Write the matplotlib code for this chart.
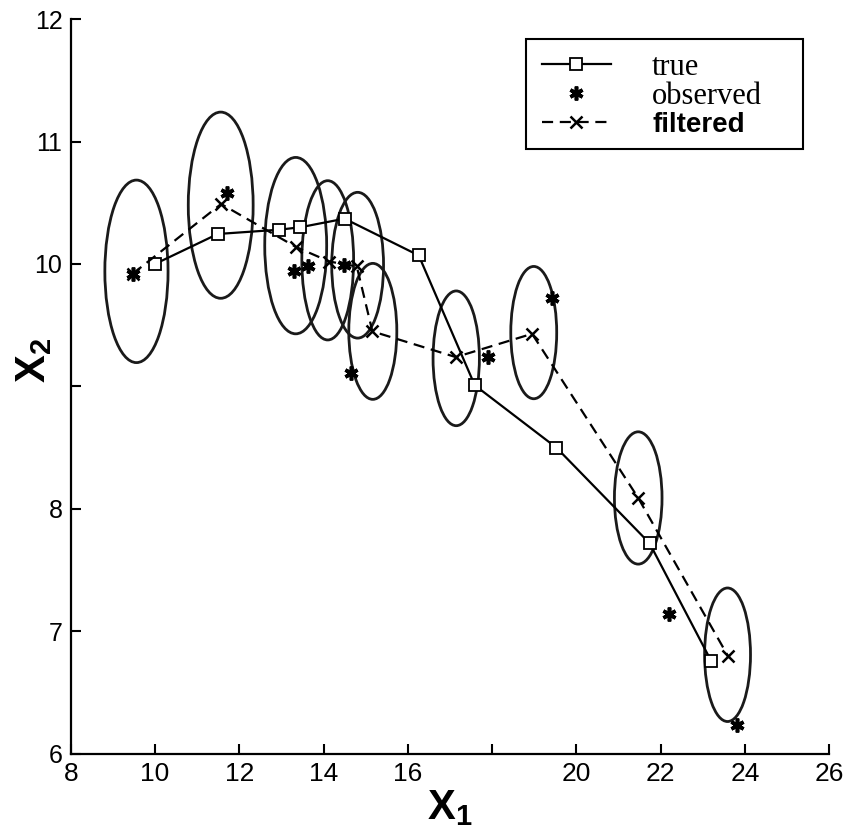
import matplotlib
matplotlib.use("Agg")
import matplotlib.pyplot as plt
from matplotlib.patches import Ellipse, Rectangle
from matplotlib.lines import Line2D

# true trajectory
true_x = [10.0, 11.49, 12.95, 13.45, 14.5, 16.26, 17.59, 19.53, 21.74, 23.2]
true_y = [10.0, 10.245, 10.28, 10.30, 10.37, 10.07, 9.01, 8.50, 7.72, 6.76]

# noisy observations
obs_x = [9.47, 11.71, 13.29, 13.63, 14.48, 14.65, 17.9, 19.43, 22.2, 23.82]
obs_y = [9.92, 10.58, 9.94, 9.98, 9.99, 9.11, 9.24, 9.72, 7.14, 6.24]

# filtered estimates
filt_x = [9.47, 11.57, 13.34, 14.14, 14.79, 15.16, 17.14, 18.95, 21.47, 23.6]
filt_y = [9.92, 10.49, 10.14, 10.02, 9.98, 9.45, 9.24, 9.43, 8.09, 6.80]

# covariance ellipses (center, width, height in data units)
ell_x = [9.56, 11.56, 13.34, 14.1, 14.81, 15.17, 17.15, 18.99, 21.47, 23.59]
ell_y = [9.94, 10.48, 10.15, 10.03, 9.99, 9.45, 9.23, 9.44, 8.09, 6.81]
ell_w = [1.50, 1.54, 1.47, 1.23, 1.23, 1.14, 1.10, 1.09, 1.13, 1.09]
ell_h = [1.49, 1.52, 1.44, 1.30, 1.19, 1.11, 1.10, 1.08, 1.08, 1.09]

x_ticks = [8, 10, 12, 14, 16, 18, 20, 22, 24, 26]
x_labels = ["8", "10", "12", "14", "16", "", "20", "22", "24", "26"]
y_ticks = [6, 7, 8, 9, 10, 11, 12]
y_labels = ["6", "7", "8", "", "10", "11", "12"]

plt.rcParams["mathtext.fontset"] = "custom"
plt.rcParams["mathtext.bf"] = "Liberation Sans:bold"
plt.rcParams["mathtext.rm"] = "Liberation Sans"

fig = plt.figure(figsize=(8.46, 8.30), dpi=100)
ax = fig.add_axes([0.0836, 0.0916, 0.8964, 0.8855])

for cx, cy, w, h in zip(ell_x, ell_y, ell_w, ell_h):
    ax.add_patch(Ellipse((cx, cy), w, h, fill=False, edgecolor="#1a1a1a", lw=2.0))

ax.plot(true_x, true_y, color="black", lw=1.6, marker="s", ms=8,
        mfc="white", mec="black", mew=1.3)
ax.plot(obs_x, obs_y, linestyle="none", marker=(6, 2, 0), ms=10,
        color="black", mew=2.6)
ax.plot(filt_x, filt_y, color="black", lw=1.6, linestyle=(0, (5, 3)),
        marker="x", ms=9, mew=1.8)

ax.set_xlim(8, 26)
ax.set_ylim(6, 12)
ax.spines["top"].set_visible(False)
ax.spines["right"].set_visible(False)
for s in ["left", "bottom"]:
    ax.spines[s].set_linewidth(1.6)

ax.set_xticks(x_ticks)
ax.set_xticklabels(x_labels, family="Liberation Sans", fontsize=19)
ax.set_yticks(y_ticks)
ax.set_yticklabels(y_labels, family="Liberation Sans", fontsize=18)
ax.tick_params(direction="in", length=7, width=1.5, pad=6)

ax.set_xlabel(r"$\mathbf{X_1}$", fontsize=30, labelpad=0)
ax.set_ylabel(r"$\mathbf{X_2}$", fontsize=30)
ax.yaxis.set_label_coords(-0.022, 0.535)

# legend: box drawn separately so it can be wider than its content
ax.add_patch(Rectangle((0.600, 0.823), 0.366, 0.150, transform=ax.transAxes,
                       facecolor="white", edgecolor="black", lw=1.5, zorder=4))
handles = [
    Line2D([], [], color="black", lw=1.6, marker="s", ms=8, mfc="white", mew=1.3),
    Line2D([], [], color="black", linestyle="none", marker=(6, 2, 0), ms=10, mew=2.6),
    Line2D([], [], color="black", lw=1.6, linestyle=(0, (5, 3)), marker="x", ms=9, mew=1.8),
]
leg = ax.legend(handles, ["true", "observed", "filtered"], loc="upper left",
                bbox_to_anchor=(0.6215, 0.954), borderaxespad=0, frameon=False,
                handlelength=2.25, handletextpad=1.35, labelspacing=0.0,
                borderpad=0, fontsize=22)
leg.set_zorder(5)
texts = leg.get_texts()
texts[0].set_family("Liberation Serif")
texts[1].set_family("Liberation Serif")
texts[2].set_family("Liberation Sans")
texts[2].set_fontweight("bold")
texts[2].set_fontsize(20)

fig.savefig("out.png", dpi=100)
